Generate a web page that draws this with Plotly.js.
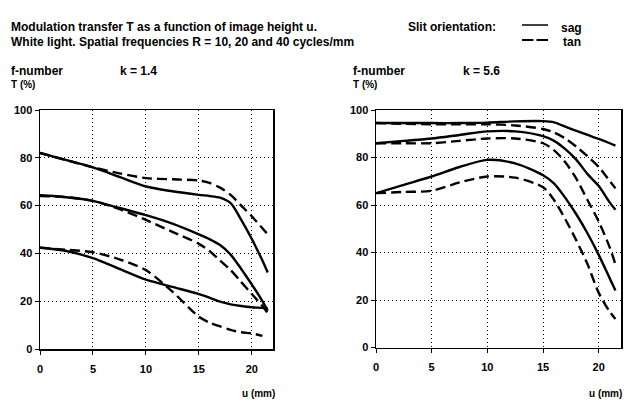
<!DOCTYPE html>
<html>
<head>
<meta charset="utf-8">
<script src="https://cdn.plot.ly/plotly-3.0.1.min.js"></script>
<style>
  html, body { margin: 0; padding: 0; background: #fff; }
  #chart { width: 640px; height: 411px; }
</style>
</head>
<body>
<div id="chart"></div>
<script>
// image height u (mm), shared sample points
var u = [0, 2.5, 5, 7.5, 10, 12.5, 15, 16, 17, 18, 19, 20, 21, 21.5];

// k = 1.4
var k14_sag10 = [82, 79, 76, 72, 68, 66, 64.5, 64, 63.3, 61, 54, 46, 37, 32];
var k14_tan10 = [82, 79, 76, 73.5, 71.5, 71, 70.5, 69.5, 67.5, 64.5, 60, 55.5, 50.5, 48];
var k14_sag20 = [64.3, 63.5, 62, 59, 56, 52.5, 48, 46, 43.5, 39.5, 33.5, 27, 20, 16];
var k14_tan20 = [64, 63.5, 62, 58.5, 54, 49, 44, 41, 37, 33, 28, 23, 18, 15];
var k14_sag40 = [42.5, 41, 38, 33.5, 29, 26, 23, 21.5, 19.8, 18.7, 18, 17.5, 17.2, 17];
var k14_tan40 = [42.3, 41.5, 40.5, 37.5, 33, 24, 13.5, 11, 9.5, 8, 7, 6.5, 5.5, null];

// k = 5.6
var k56_sag10 = [94.5, 94.5, 94.5, 94.5, 94.7, 95.2, 95.3, 94.8, 93, 91.2, 89.5, 87.8, 86, 85];
var k56_tan10 = [94.5, 94.2, 94, 94, 94, 93.5, 92, 90.5, 88, 84.5, 80.5, 76, 70, 67];
var k56_sag20 = [86, 87, 88, 89.5, 91, 91, 89, 87, 83.5, 79, 73, 68, 61, 58];
var k56_tan20 = [86, 86, 86, 87, 88, 88, 86, 83, 78, 71, 62, 53, 42, 35];
var k56_sag40 = [65, 68.5, 72, 76, 79, 77.5, 72.5, 69, 63, 56, 48, 39, 29, 24];
var k56_tan40 = [65, 65.5, 66, 69.5, 72, 71.5, 67.5, 62, 54, 45, 35, 23, 15, 12];

var xTicks = [0, 5, 10, 15, 20];
var yTicks = [0, 20, 40, 60, 80, 100];

var FONT = "Liberation Sans, Arial, sans-serif";
var W = 640, H = 411;
function px(x) { return x / W; }
function py(y) { return 1 - y / H; }

function curve(y, dashed, xa, ya) {
    return {
        x: u, y: y, xaxis: xa, yaxis: ya,
        mode: 'lines', type: 'scatter',
        line: { color: '#000', width: 2.4, shape: 'spline', smoothing: 0.8,
                dash: dashed ? '10px,5px' : 'solid' },
        showlegend: false, hoverinfo: 'skip'
    };
}

var data = [
    curve(k14_sag10, false, 'x', 'y'),
    curve(k14_tan10, true, 'x', 'y'),
    curve(k14_sag20, false, 'x', 'y'),
    curve(k14_tan20, true, 'x', 'y'),
    curve(k14_sag40, false, 'x', 'y'),
    curve(k14_tan40, true, 'x', 'y'),
    curve(k56_sag10, false, 'x2', 'y2'),
    curve(k56_tan10, true, 'x2', 'y2'),
    curve(k56_sag20, false, 'x2', 'y2'),
    curve(k56_tan20, true, 'x2', 'y2'),
    curve(k56_sag40, false, 'x2', 'y2'),
    curve(k56_tan40, true, 'x2', 'y2')
];

function axisBase() {
    return {
        showline: true, mirror: true, linecolor: '#000', linewidth: 1.5,
        ticks: 'outside', ticklen: 4, tickcolor: '#000',
        showgrid: true, gridcolor: '#000', gridwidth: 1, griddash: '1px,3px',
        zeroline: false,
        tickfont: { family: FONT, size: 11, color: '#000', weight: 'bold' }
    };
}
function xAxis(domain, anchor) {
    return Object.assign(axisBase(), {
        domain: domain, range: [0, 22], tickvals: xTicks, anchor: anchor,
        ticklabelstandoff: 5
    });
}
function yAxis(domain, anchor) {
    return Object.assign(axisBase(), {
        domain: domain, range: [0, 100], tickvals: yTicks, anchor: anchor
    });
}

function label(text, x, y, size, anchor) {
    return {
        text: text, xref: 'paper', yref: 'paper', x: px(x), y: py(y),
        xanchor: anchor || 'left', yanchor: 'middle', showarrow: false,
        font: { family: FONT, size: size, color: '#000', weight: 'bold' }
    };
}

var layout = {
    width: W, height: H,
    margin: { l: 0, r: 0, t: 0, b: 0 },
    paper_bgcolor: '#fff', plot_bgcolor: '#fff',
    showlegend: false,
    xaxis: xAxis([px(40), px(273)], 'y'),
    yaxis: yAxis([py(349), py(110)], 'x'),
    xaxis2: xAxis([px(376), px(621)], 'y2'),
    yaxis2: yAxis([py(347.5), py(110)], 'x2'),
    annotations: [
        label('Modulation transfer T as a function of image height u.', 9, 27, 12),
        label('White light. Spatial frequencies R = 10, 20 and 40 cycles/mm', 9, 42, 12),
        label('Slit orientation:', 406, 27, 12),
        label('sag', 559, 28, 12),
        label('tan', 561, 42, 12),
        label('f-number', 9, 71, 12),
        label('k = 1.4', 118, 71, 12),
        label('T (%)', 9, 85, 10),
        label('f-number', 351, 71, 12),
        label('k = 5.6', 461, 71, 12),
        label('T (%)', 351, 85, 10),
        label('u (mm)', 277, 393, 10, 'right'),
        label('u (mm)', 624, 393, 10, 'right')
    ],
    shapes: [
        { type: 'line', xref: 'paper', yref: 'paper', x0: px(522), x1: px(548), y0: py(25), y1: py(25),
          line: { color: '#000', width: 1.5 } },
        { type: 'line', xref: 'paper', yref: 'paper', x0: px(522), x1: px(548), y0: py(40), y1: py(40),
          line: { color: '#000', width: 1.8, dash: '11.5px,3px' } }
    ]
};

Plotly.newPlot('chart', data, layout, { staticPlot: true, displayModeBar: false });
</script>
</body>
</html>
